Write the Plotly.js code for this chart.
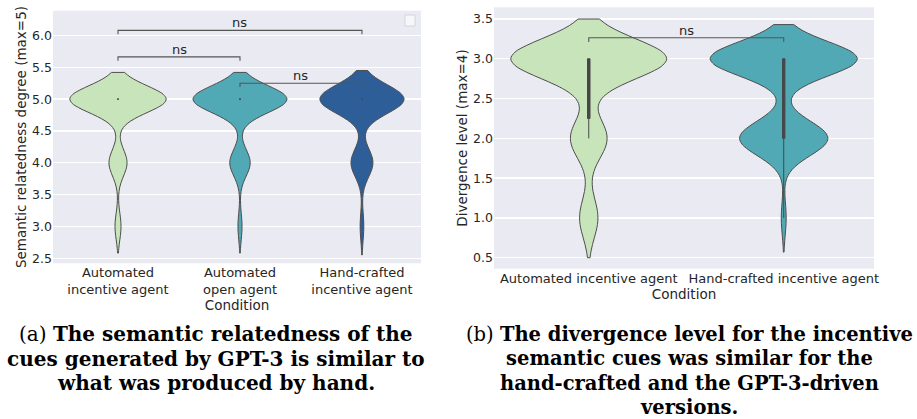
<!DOCTYPE html>
<html>
<head>
<meta charset="utf-8">
<script src="https://cdn.plot.ly/plotly-3.0.1.min.js"></script>
<style>html,body{margin:0;padding:0;background:#fff;}#chart{width:917px;height:419px;}</style>
</head>
<body>
<div id="chart"></div>
<script>
// ---- Panel (a): semantic relatedness (ratings, max=5)
const conditionsA = ['Automated<br>incentive agent', 'Automated<br>open agent', 'Hand-crafted<br>incentive agent'];
const relatednessAutoIncentive = [3, 4, 4, 4, 5, 5, 5, 5, 5, 5, 5, 5, 5, 5, 5, 5, 5, 5, 5, 5];
const relatednessAutoOpen = [3, 4, 4, 4, 4, 4, 5, 5, 5, 5, 5, 5, 5, 5, 5, 5, 5, 5, 5, 5, 5, 5, 5, 5, 5, 5, 5, 5, 5];
const relatednessHandCrafted = [3, 4, 4, 4, 4, 4, 4, 5, 5, 5, 5, 5, 5, 5, 5, 5, 5, 5, 5, 5, 5, 5, 5, 5, 5, 5, 5, 5, 5, 5];
const yTicksA = [2.5, 3.0, 3.5, 4.0, 4.5, 5.0, 5.5, 6.0];
const comparisonsA = [[1, 2], [0, 1], [0, 2]];
const comparisonLabelsA = ['ns', 'ns', 'ns'];

// ---- Panel (b): divergence level (ratings, max=4)
const conditionsB = ['Automated incentive agent', 'Hand-crafted incentive agent'];
const divergenceAuto = [1, 1, 2, 2, 2, 2, 3, 3, 3, 3, 3, 3, 3, 3, 3, 3, 3, 3, 3, 3, 3, 3, 3];
const divergenceHand = [1, 2, 2, 2, 2, 2, 2, 2, 2, 2, 2, 2, 2, 2, 2, 2, 2, 2, 2, 3, 3, 3, 3, 3, 3, 3, 3, 3, 3, 3, 3, 3, 3, 3, 3, 3, 3, 3, 3, 3, 3, 3, 3, 3, 3, 3, 3, 3, 3];
const yTicksB = [0.5, 1.0, 1.5, 2.0, 2.5, 3.0, 3.5];
const comparisonsB = [[0, 1]];
const comparisonLabelsB = ['ns'];

const captionLinesA = ['(a) <b>The semantic relatedness of the</b>', '<b>cues generated by GPT-3 is similar to</b>', '<b>what was produced by hand.</b>'];
const captionLinesB = ['(b) <b>The divergence level for the incentive</b>', '<b>semantic cues was similar for the</b>', '<b>hand-crafted and the GPT-3-driven</b>', '<b>versions.</b>'];

const TXT = '#262626';
const FONT = 'DejaVu Sans, sans-serif';
const EDGE = '#4d4d4d';
const BOXC = '#474747';

function violin(cat, vals, xa, ya, color, bw, w) {
  return {
    type: 'violin', x0: cat, name: cat, y: vals, xaxis: xa, yaxis: ya,
    bandwidth: bw, spanmode: 'soft', width: w, scalemode: 'width',
    fillcolor: color, line: {color: EDGE, width: 1},
    box: {visible: true, width: 0.016, fillcolor: BOXC, line: {color: BOXC, width: 1}},
    meanline: {visible: false}, points: false, hoverinfo: 'skip'
  };
}

const traces = [
  violin(conditionsA[0], relatednessAutoIncentive, 'x', 'y', '#c8e4ba', 0.21, 0.79),
  violin(conditionsA[1], relatednessAutoOpen, 'x', 'y', '#50a9b4', 0.21, 0.77),
  violin(conditionsA[2], relatednessHandCrafted, 'x', 'y', '#2e5e98', 0.225, 0.69),
  violin(conditionsB[0], divergenceAuto, 'x2', 'y2', '#c8e4ba', 0.25, 0.80),
  violin(conditionsB[1], divergenceHand, 'x2', 'y2', '#50a9b4', 0.215, 0.755)
];

const annotations = [];
function brackets(cats, groups, comps, labels, xa, ya, offset, step, h) {
  const top = Math.max(...groups.map(g => Math.max(...g)));
  comps.forEach((c, i) => {
    const yl = top + offset + i * step;
    traces.push({
      type: 'scatter', mode: 'lines', xaxis: xa, yaxis: ya,
      x: [cats[c[0]], cats[c[0]], cats[c[1]], cats[c[1]]],
      y: [yl - h, yl, yl, yl - h],
      line: {color: '#555555', width: 1.1}, hoverinfo: 'skip', showlegend: false
    });
    annotations.push({
      xref: xa, yref: ya, x: (c[0] + c[1]) / 2, y: yl, text: labels[i],
      showarrow: false, yanchor: 'bottom', yshift: -2,
      font: {family: FONT, size: 13, color: TXT}
    });
  });
}
brackets(conditionsA, [relatednessAutoIncentive, relatednessAutoOpen, relatednessHandCrafted],
         comparisonsA, comparisonLabelsA, 'x', 'y', 0.25, 0.415, 0.06);
brackets(conditionsB, [divergenceAuto, divergenceHand],
         comparisonsB, comparisonLabelsB, 'x2', 'y2', 0.265, 0.4, 0.055);

function caption(lines, cx, size) {
  lines.forEach((t, i) => {
    annotations.push({xref: 'paper', yref: 'paper', x: cx / 917, y: 1 - (334 + i * 24.6) / 419,
      xanchor: 'center', yanchor: 'middle', text: t, showarrow: false,
      font: {family: 'DejaVu Serif, serif', size: size, color: '#000'}});
  });
}
caption(captionLinesA, 216, 20);
caption(captionLinesB, 689, 19.5);

function yax(dom, rng, ticks, title) {
  return {
    domain: dom, range: rng, tickvals: ticks, ticktext: ticks.map(v => v.toFixed(1)),
    showgrid: true, gridcolor: '#ffffff', gridwidth: 1.3, zeroline: false, showline: false, ticks: '',
    tickfont: {family: FONT, size: 12.5, color: TXT},
    title: {text: title, font: {family: FONT, size: 13.5, color: TXT}, standoff: 2}
  };
}
function xax(dom, rng, cats) {
  return {
    domain: dom, range: rng, type: 'category', categoryorder: 'array', categoryarray: cats,
    showgrid: false, zeroline: false, showline: false, ticks: '',
    tickfont: {family: FONT, size: 13, color: TXT},
    title: {text: 'Condition', font: {family: FONT, size: 13.5, color: TXT}, standoff: 1}
  };
}

const layout = {
  width: 917, height: 419,
  margin: {l: 0, r: 0, t: 0, b: 0},
  paper_bgcolor: '#ffffff', plot_bgcolor: '#eaeaf2',
  showlegend: false, violinmode: 'overlay',
  xaxis: Object.assign(xax([53 / 917, 421 / 917], [-0.533, 2.484], conditionsA), {anchor: 'y'}),
  yaxis: Object.assign(yax([1 - 263.3 / 419, 1 - 10.7 / 419], [2.42, 6.39], yTicksA, 'Semantic relatedness degree (max=5)'), {anchor: 'x'}),
  xaxis2: Object.assign(xax([494 / 917, 874 / 917], [-0.486, 1.463], conditionsB), {anchor: 'y2'}),
  yaxis2: Object.assign(yax([1 - 268.7 / 419, 1 - 7.3 / 419], [0.362, 3.647], yTicksB, 'Divergence level (max=4)'), {anchor: 'x2'}),
  annotations: annotations,
  shapes: [{type: 'rect', xref: 'paper', yref: 'paper', x0: 405 / 917, x1: 415 / 917, y0: 1 - 26 / 419, y1: 1 - 15 / 419,
    fillcolor: 'rgba(255,255,255,0.6)', line: {color: '#d4d4dc', width: 1}}]
};

Plotly.newPlot('chart', traces, layout, {displayModeBar: false, staticPlot: true});
</script>
</body>
</html>
